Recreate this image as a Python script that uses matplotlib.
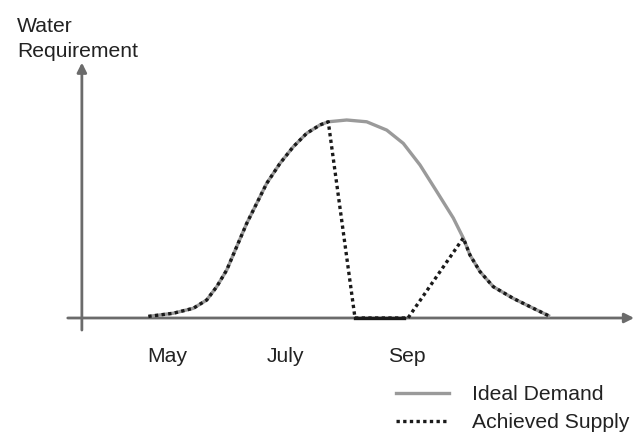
import numpy as np
import matplotlib
matplotlib.use("Agg")
import matplotlib.pyplot as plt
from matplotlib.lines import Line2D

plt.rcParams["font.family"] = ["Liberation Sans", "DejaVu Sans"]

# ---- data (x in months, y as fraction of peak demand) ----
demand_month = [4.631, 5.056, 5.397, 5.625, 5.795, 5.965, 6.135, 6.306, 6.476, 6.646,
                6.872, 7.099, 7.327, 7.553, 7.694, 8.008, 8.348, 8.689, 8.971, 9.255,
                9.540, 9.822, 9.992, 10.106, 10.277, 10.503, 10.843, 11.184, 11.468]
demand_value = [0.008, 0.024, 0.049, 0.091, 0.158, 0.242, 0.360, 0.478, 0.579, 0.680,
                0.781, 0.865, 0.933, 0.975, 0.991, 1.000, 0.991, 0.949, 0.882, 0.773,
                0.639, 0.505, 0.404, 0.318, 0.234, 0.158, 0.099, 0.049, 0.008]

# supply: follows demand to the July peak, collapses to zero, recovers in Sep
supply_month = [4.631, 5.056, 5.397, 5.625, 5.795, 5.965, 6.135, 6.306, 6.476, 6.646,
                6.872, 7.099, 7.327, 7.553, 7.694, 8.149, 9.051, 9.992,
                10.106, 10.277, 10.503, 10.843, 11.184, 11.468]
supply_value = [0.008, 0.024, 0.049, 0.091, 0.158, 0.242, 0.360, 0.478, 0.579, 0.680,
                0.781, 0.865, 0.933, 0.975, 0.991, 0.0, 0.0, 0.404,
                0.318, 0.234, 0.158, 0.099, 0.049, 0.008]
zero_supply = [8.149, 8.98]

month_labels = ["May", "July", "Sep"]
month_pos = [4.96, 6.96, 9.03]

GRAY_AXIS = "#6b6b6b"
GRAY_DEMAND = "#9a9a9a"
BLACK = "#1a1a1a"
TEXT = "#222222"
FS = 15.2

fig = plt.figure(figsize=(6.39, 4.34), dpi=100)
ax = fig.add_axes([0, 0, 1, 1])
ax.set_xlim(2.1064, 12.983)
ax.set_ylim(-0.5859, 1.6061)
ax.axis("off")

# axes drawn as arrows
ax.annotate("", xy=(12.90, 0), xytext=(3.26, 0),
            arrowprops=dict(arrowstyle="-|>", color=GRAY_AXIS, lw=2.0,
                            mutation_scale=14, shrinkA=0, shrinkB=0))
ax.annotate("", xy=(3.50, 1.29), xytext=(3.50, -0.061),
            arrowprops=dict(arrowstyle="-|>", color=GRAY_AXIS, lw=2.0,
                            mutation_scale=14, shrinkA=0, shrinkB=0))

ax.plot(demand_month, demand_value, color=GRAY_DEMAND, lw=2.4,
        solid_capstyle="butt", solid_joinstyle="round", zorder=3)
ax.plot(supply_month, supply_value, color=BLACK, lw=2.4,
        linestyle=(0, (1, 1)), dash_capstyle="butt", zorder=4)
ax.plot(zero_supply, [0, 0], color=BLACK, lw=2.4, zorder=4)

for m, lab in zip(month_pos, month_labels):
    ax.text(m, -0.222, lab, ha="center", va="baseline", fontsize=FS, color=TEXT)

fig.text(17 / 639, 1 - 32 / 434, "Water", ha="left", va="baseline",
         fontsize=FS, color=TEXT)
fig.text(17 / 639, 1 - 57 / 434, "Requirement", ha="left", va="baseline",
         fontsize=FS, color=TEXT)

handles = [Line2D([], [], color=GRAY_DEMAND, lw=2.4),
           Line2D([], [], color=BLACK, lw=2.4, linestyle=(0, (1, 1)))]
leg = fig.legend(handles, ["Ideal Demand", "Achieved Supply"],
                 loc="upper left", bbox_to_anchor=(396 / 639, 1 - 385 / 434),
                 frameon=False, fontsize=FS, handlelength=2.5,
                 handletextpad=1.09, labelspacing=0.43, borderaxespad=0,
                 borderpad=0)
for t in leg.get_texts():
    t.set_color(TEXT)

fig.savefig("out.png", dpi=100)
